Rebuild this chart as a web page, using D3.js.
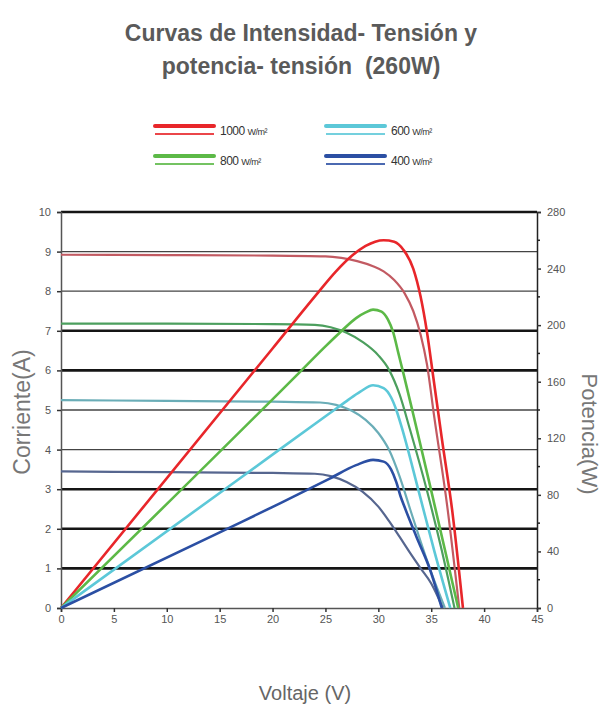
<!DOCTYPE html>
<html>
<head>
<meta charset="utf-8">
<script src="https://cdn.jsdelivr.net/npm/d3@7"></script>
<style>
  body { margin: 0; background: #fff; }
  svg { display: block; font-family: "Liberation Sans", Arial, sans-serif; }
</style>
</head>
<body>
<svg id="chart" width="601" height="706"></svg>
<script>
// DATA - series labels and colours
var irradiance = ["1000", "800", "600", "400"];
var powerColors = ["#e8262a", "#5cb947", "#5cc8d8", "#2b4fa3"];
var ivColors = ["#c25a62", "#4c9f5e", "#6aadb7", "#56668f"];

// DATA - corriente (A) vs voltaje (V)
var iv1000 = [[0, 8.92], [10, 8.91], [20, 8.9], [25, 8.88], [26.5, 8.84], [28, 8.76], [29.5, 8.63], [30.5, 8.5],
    [31.5, 8.28], [32.5, 7.94], [33.3, 7.5], [34, 6.9], [34.6, 6.15], [35.3, 4.8], [36.5, 2.6], [37.65, 0]];
var iv800 = [[0, 7.18], [10, 7.18], [20, 7.17], [24, 7.15], [25.5, 7.09], [27, 6.95], [28.5, 6.72], [30, 6.38],
    [31, 6.02], [32, 5.4], [33, 4.5], [34.6, 2.96], [36, 1.45], [37.2, 0]];
var iv600 = [[0, 5.25], [10, 5.23], [20, 5.21], [24.5, 5.19], [26, 5.13], [27.5, 4.98], [28.8, 4.75], [30, 4.42],
    [31, 4.0], [32, 3.33], [33, 2.5], [34, 1.68], [35, 0.9], [36.3, 0]];
var iv400 = [[0, 3.45], [10, 3.43], [20, 3.41], [24, 3.39], [25.5, 3.33], [27, 3.18], [28.5, 2.94], [30, 2.56],
    [31, 2.2], [32, 1.8], [33, 1.39], [34, 1.0], [35, 0.62], [36.1, 0]];

// DATA - potencia (W) vs voltaje (V)
var pv1000 = [[0, 0], [20, 183.5], [24.3, 223], [26, 238], [27.5, 249], [28.8, 256], [29.7, 259], [30.5, 260],
    [31.5, 259], [32.4, 253], [33.3, 240], [34, 220], [34.6, 195], [35.2, 163], [36, 120], [37, 68], [38, 0]];
var pv800 = [[0, 0], [22.6, 167], [25, 185], [26.4, 195], [27.9, 205], [28.8, 209], [29.5, 211], [30.3, 209.5],
    [30.9, 204], [31.4, 195], [31.9, 180], [32.4, 165], [33.3, 137], [35, 83], [36.3, 41], [37.55, 0]];
var pv600 = [[0, 0], [16.6, 90], [25.4, 137.7], [27, 146.3], [28.3, 153], [29.5, 157.5], [30.5, 155.5], [31.2, 149],
    [31.7, 140], [32.2, 128], [33.8, 83], [35.3, 40], [36.8, 0]];
var pv400 = [[0, 0], [16, 57], [20.7, 74], [25.4, 91.5], [27.9, 101], [29.5, 104.7], [30.5, 103.5], [31.2, 98],
    [31.7, 89], [32.1, 79], [32.5, 71], [33.6, 50.4], [34.9, 26.9], [36, 0]];

// DATA - ticks
var voltTicks = [0, 5, 10, 15, 20, 25, 30, 35, 40, 45];
var currentTicks = [0, 1, 2, 3, 4, 5, 6, 7, 8, 9, 10];
var gridBold = [1, 2, 3, 6, 7, 10];
var powerTicks = [0, 40, 80, 120, 160, 200, 240, 280];
var powerMinor = [20, 60, 100, 140, 180, 220, 260];

var ivSeries = [iv1000, iv800, iv600, iv400];
var pvSeries = [pv1000, pv800, pv600, pv400];

const svg = d3.select("#chart");

// SCALES
var x = d3.scaleLinear().domain([0, 45]).range([61, 537]);
var yI = d3.scaleLinear().domain([0, 10]).range([608, 212]);
var yP = d3.scaleLinear().domain([0, 280]).range([608, 212]);

// TITLE
svg.append("g")
    .selectAll("text")
    .data(["Curvas de Intensidad- Tensión y", "potencia- tensión  (260W)"])
    .join("text")
    .attr("x", 301)
    .attr("y", (d, i) => 41 + i * 33)
    .attr("text-anchor", "middle")
    .attr("font-size", 23)
    .attr("font-weight", "bold")
    .attr("fill", "#5a5a5a")
    .style("white-space", "pre")
    .text(d => d);

// LEGEND
var legend = svg.append("g")
    .selectAll("g")
    .data(irradiance)
    .join("g")
    .attr("transform", (d, i) => "translate(" + (155 + (i >> 1) * 171) + "," + (126 + (i % 2) * 30) + ")");

legend.append("line")
    .attr("x1", 0).attr("x2", 59)
    .attr("stroke", (d, i) => powerColors[irradiance.indexOf(d)])
    .attr("stroke-width", 4)
    .attr("stroke-linecap", "round");

legend.append("line")
    .attr("x1", 0).attr("x2", 59)
    .attr("y1", 8).attr("y2", 8)
    .attr("stroke", (d, i) => powerColors[irradiance.indexOf(d)])
    .attr("stroke-opacity", 0.85)
    .attr("stroke-width", 2);

var legendText = legend.append("text")
    .attr("x", 65)
    .attr("y", 9)
    .attr("fill", "#333")
    .attr("font-size", 12)
    .attr("letter-spacing", -0.5);
legendText.append("tspan").text(d => d + " ");
legendText.append("tspan").attr("font-size", 9).text("W/m²");

// GRID
svg.append("g")
    .selectAll("line")
    .data(currentTicks.filter(d => d > 0))
    .join("line")
    .attr("x1", x(0))
    .attr("x2", x(45))
    .attr("y1", d => yI(d))
    .attr("y2", d => yI(d))
    .attr("stroke", d => gridBold.includes(d) ? "#151515" : "#444")
    .attr("stroke-width", d => gridBold.includes(d) ? 2.6 : 1.3);

// AXES
var axisL = svg.append("g")
    .attr("transform", "translate(" + x(0) + ",0)")
    .call(d3.axisLeft(yI).tickValues(currentTicks).tickSize(4).tickPadding(6));

var axisB = svg.append("g")
    .attr("transform", "translate(0," + yI(0) + ")")
    .call(d3.axisBottom(x).tickValues(voltTicks).tickSize(4).tickPadding(3));

var axisR = svg.append("g")
    .attr("transform", "translate(" + x(45) + ",0)")
    .call(d3.axisRight(yP).tickValues(powerTicks).tickSize(4).tickPadding(6));

svg.append("g")
    .selectAll("line")
    .data(powerMinor)
    .join("line")
    .attr("x1", x(45))
    .attr("x2", x(45) + 3)
    .attr("y1", d => yP(d))
    .attr("y2", d => yP(d))
    .attr("stroke", "#222")
    .attr("stroke-width", 1.5);

[axisL, axisB, axisR].forEach(a => {
    a.select(".domain").attr("stroke", "#555").attr("stroke-width", 1.5);
    a.selectAll(".tick line").attr("stroke", "#333").attr("stroke-width", 1.5);
    a.selectAll(".tick text")
        .attr("fill", "#555")
        .attr("font-size", 11)
        .attr("font-family", "Liberation Sans, Arial, sans-serif");
});
axisR.select(".domain").attr("stroke", "#222");

// CURVES
var lineIV = d3.line()
    .x(d => x(d[0]))
    .y(d => yI(d[1]))
    .curve(d3.curveMonotoneX);

var linePV = d3.line()
    .x(d => x(d[0]))
    .y(d => yP(d[1]))
    .curve(d3.curveMonotoneX);

svg.append("g")
    .selectAll("path")
    .data(ivSeries)
    .join("path")
    .attr("d", lineIV)
    .attr("fill", "none")
    .attr("stroke", (d, i) => ivColors[i])
    .attr("stroke-width", 2.2);

svg.append("g")
    .selectAll("path")
    .data(pvSeries)
    .join("path")
    .attr("d", linePV)
    .attr("fill", "none")
    .attr("stroke", (d, i) => powerColors[i])
    .attr("stroke-width", 2.6);

// AXIS TITLES
svg.append("text")
    .attr("transform", "translate(30,412) rotate(-90)")
    .attr("text-anchor", "middle")
    .attr("font-size", 23)
    .attr("fill", "#777")
    .text("Corriente(A)");

svg.append("text")
    .attr("transform", "translate(582,434) rotate(90)")
    .attr("text-anchor", "middle")
    .attr("font-size", 22)
    .attr("fill", "#777")
    .text("Potencia(W)");

svg.append("text")
    .attr("x", 305)
    .attr("y", 700)
    .attr("text-anchor", "middle")
    .attr("font-size", 20)
    .attr("fill", "#666")
    .text("Voltaje (V)");
</script>
</body>
</html>
